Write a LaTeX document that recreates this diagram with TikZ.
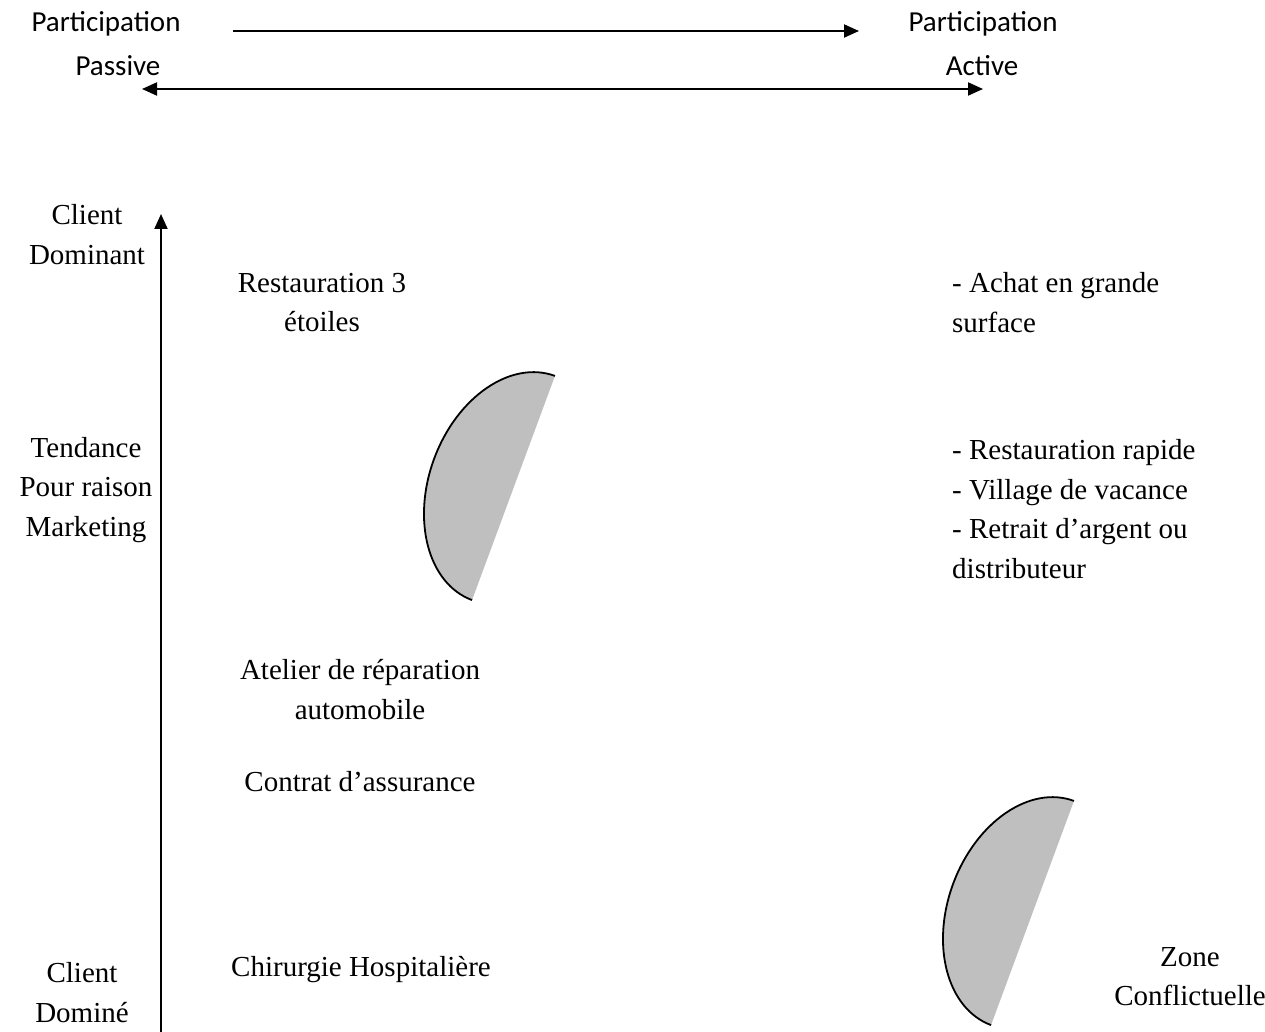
\documentclass[tikz,border=0pt]{standalone}
\usepackage{fontspec}
\setmainfont{Liberation Serif}
\newfontfamily\headfont{Carlito}
\usetikzlibrary{arrows.meta}
\begin{document}
\begin{tikzpicture}[x=1pt, y=-1pt,
  body/.style={font=\fontsize{29}{39.5}\selectfont, inner sep=0pt},
  head/.style={font=\headfont\fontsize{29}{35}\selectfont, inner sep=0pt},
  axisline/.style={line width=2pt, -{Triangle[length=15pt,width=13pt]}},
  bothways/.style={line width=2pt, {Triangle[length=15pt,width=13pt]}-{Triangle[length=15pt,width=13pt]}},
  moonfill/.style={fill=gray!50},
  moonedge/.style={draw=black, line width=1.8pt},
  halfmoon/.pic={
    \begin{scope}[rotate=-110.3]
      \fill[moonfill] (119.5,0) arc[start angle=0, end angle=180, x radius=119.5, y radius=84.6] -- cycle;
      \draw[moonedge] (119.5,0) arc[start angle=0, end angle=180, x radius=119.5, y radius=84.6];
    \end{scope}
  }]
\useasboundingbox (0,0) rectangle (1265,1032);

% participation scale
\node[head] (pp1) at (106,24) {Participation};
\node[head] (pp2) at (118,66) {Passive};
\node[head] (pa1) at (983,24) {Participation};
\node[head] (pa2) at (982,66) {Active};
\coordinate (t1s) at (233,31);
\coordinate (t1e) at (859,31);
\draw[axisline] (t1s) -- (t1e);
\coordinate (t2s) at (142,89);
\coordinate (t2e) at (983,89);
\draw[bothways] (t2s) -- (t2e);

% vertical axis
\coordinate (vs) at (161,1032);
\coordinate (ve) at (161,214);
\draw[axisline] (vs) -- (ve);
\node[body, align=center] (cdom) at (87,234.5) {Client\\Dominant};
\node[body, align=center] (tend) at (86,490) {Tendance\\Pour raison\\Marketing};
\node[body, align=center] (cdmn) at (82,992.5) {Client\\Dominé};

% services
\node[body, align=center] (resto) at (322,302.5) {Restauration 3\\étoiles};
\node[body, align=left, anchor=west] (achat) at (952,302.5) {- Achat en grande\\surface};
\node[body, align=left, anchor=west] (rapide) at (952,509) {- Restauration rapide\\- Village de vacance\\- Retrait d’argent ou\\distributeur};
\node[body, align=center] (atelier) at (360,689.5) {Atelier de réparation\\automobile};
\node[body] (contrat) at (360,782) {Contrat d’assurance};
\node[body] (chir) at (361,970) {Chirurgie Hospitalière};
\node[body, align=center] (zone) at (1190,976.5) {Zone\\Conflictuelle};

% half-moon markers
\pic at (513.5,488) {halfmoon};
\pic at (1032.5,913) {halfmoon};
\end{tikzpicture}
\end{document}
